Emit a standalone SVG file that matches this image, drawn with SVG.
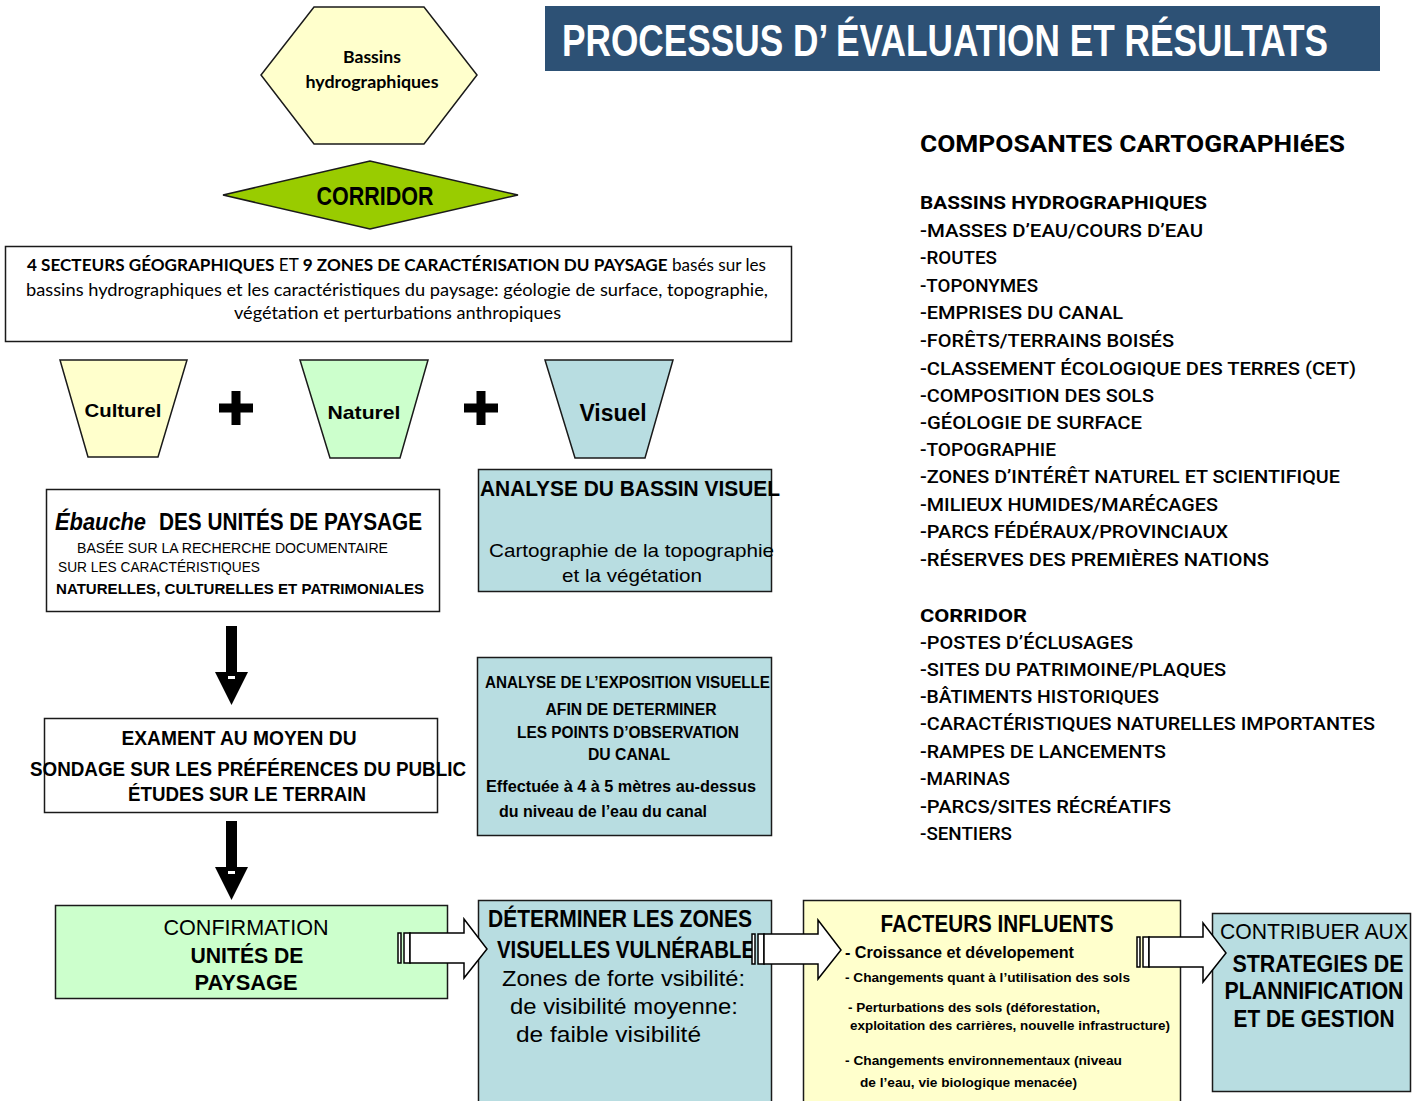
<svg xmlns="http://www.w3.org/2000/svg" width="1424" height="1101" viewBox="0 0 1424 1101">
<style>
  .box { stroke: #1a1a1a; stroke-width: 1.5; }
  .w { fill: #ffffff; }
  .y { fill: #FFFFCC; }
  .g { fill: #CCFFCC; }
  .t { fill: #B8DDE1; }
  .nb { font-family: "Liberation Sans", Arial, sans-serif; font-weight: bold; fill: #000; }
  .nr { font-family: "Liberation Sans", Arial, sans-serif; font-weight: normal; fill: #000; }
  .cal { font-family: Lato, "Liberation Sans", sans-serif; fill: #000; }
  .fg { font-family: Roboto, "Liberation Sans", sans-serif; font-weight: 500; font-size: 18px; fill: #000; }
  .fgb { font-family: Roboto, "Liberation Sans", sans-serif; font-weight: 700; fill: #000; }
  .mid { text-anchor: middle; }
  .arrow { fill: #ffffff; stroke: #000; stroke-width: 1.5; stroke-linejoin: miter; }
  .darrow { fill: #000; }
</style>
<defs>
  <g id="blockArrow">
    <rect class="arrow" x="398" y="933" width="3" height="30"/>
    <rect class="arrow" x="404" y="933" width="6" height="30"/>
    <polygon class="arrow" points="410,933 464,933 464,919 487,949 464,978 464,963 410,963"/>
  </g>
  <g id="downArrow">
    <polygon class="darrow" points="226,626 237,626 237,672 248,672 231.5,705 215,672 226,672"/>
    <rect x="228" y="676" width="7" height="3" fill="#ffffff"/>
  </g>
  <g id="plus">
    <rect x="-17" y="-4.5" width="34" height="9" fill="#000"/>
    <rect x="-4.5" y="-17" width="9" height="34" fill="#000"/>
  </g>
</defs>

<rect width="1424" height="1101" fill="#ffffff"/>

<!-- Title -->
<g id="title">
  <rect x="545" y="6" width="835" height="65" fill="#2D5175"/>
  <text transform="translate(562,56) scale(0.72,1)" x="0" y="0" class="nb" font-size="44" style="fill:#ffffff" textLength="1064" lengthAdjust="spacingAndGlyphs">PROCESSUS D’ ÉVALUATION ET RÉSULTATS</text>
</g>

<!-- Hexagon -->
<g id="bassins-hydro">
  <polygon class="box y" points="314,7 424,7 477,75 424,144 314,144 261,75"/>
  <text x="372" y="63" class="cal mid" font-size="17" font-weight="bold" textLength="58" lengthAdjust="spacingAndGlyphs">Bassins</text>
  <text x="372" y="88" class="cal mid" font-size="17" font-weight="bold" textLength="133" lengthAdjust="spacingAndGlyphs">hydrographiques</text>
</g>

<!-- Corridor diamond -->
<g id="corridor">
  <polygon class="box" fill="#99CC00" points="223,195 370,161 518,195 370,229"/>
  <text x="375" y="205" class="nb mid" font-size="25" textLength="117" lengthAdjust="spacingAndGlyphs">CORRIDOR</text>
</g>

<!-- Secteurs box -->
<g id="secteurs">
  <rect class="box w" x="5.5" y="246.5" width="786" height="95"/>
  <text x="27" y="271" class="cal" font-size="17" textLength="739" lengthAdjust="spacingAndGlyphs"><tspan font-weight="bold">4 SECTEURS GÉOGRAPHIQUES</tspan> ET <tspan font-weight="bold">9 ZONES DE CARACTÉRISATION  DU PAYSAGE</tspan> basés sur les</text>
  <text x="26" y="296" class="cal" font-size="17" textLength="742" lengthAdjust="spacingAndGlyphs">bassins hydrographiques et les caractéristiques du  paysage: géologie de surface, topographie,</text>
  <text x="234" y="319" class="cal" font-size="17" textLength="327" lengthAdjust="spacingAndGlyphs">végétation et perturbations anthropiques</text>
</g>

<!-- Trapezoids -->
<g id="culturel">
  <polygon class="box y" points="60,360 187,360 158,457 88,457"/>
  <text x="123" y="417" class="nb mid" font-size="19" textLength="77" lengthAdjust="spacingAndGlyphs">Culturel</text>
</g>
<g id="naturel">
  <polygon class="box g" points="300,360 428,360 400,458 330,458"/>
  <text x="364" y="419" class="nb mid" font-size="19" textLength="73" lengthAdjust="spacingAndGlyphs">Naturel</text>
</g>
<g id="visuel">
  <polygon class="box t" points="545,360 673,360 645,458 575,458"/>
  <text x="613" y="421" class="nb mid" font-size="23" textLength="67" lengthAdjust="spacingAndGlyphs">Visuel</text>
</g>

<g id="operators">
  <use href="#plus" transform="translate(236,408)"/>
  <use href="#plus" transform="translate(481,408)"/>
</g>

<!-- Ebauche -->
<g id="ebauche">
  <rect class="box w" x="46.5" y="489.5" width="393" height="122"/>
  <text x="55" y="530" class="nb" font-size="24" font-style="italic" textLength="91" lengthAdjust="spacingAndGlyphs">Ébauche</text>
  <text x="159" y="530" class="nb" font-size="24" textLength="263" lengthAdjust="spacingAndGlyphs">DES UNITÉS DE PAYSAGE</text>
  <text x="77" y="553" class="nr" font-size="15" textLength="311" lengthAdjust="spacingAndGlyphs">BASÉE SUR LA RECHERCHE DOCUMENTAIRE</text>
  <text x="58" y="572" class="nr" font-size="15" textLength="202" lengthAdjust="spacingAndGlyphs">SUR LES CARACTÉRISTIQUES</text>
  <text x="56" y="594" class="nb" font-size="15" textLength="368" lengthAdjust="spacingAndGlyphs">NATURELLES, CULTURELLES ET PATRIMONIALES</text>
</g>

<!-- Analyse du bassin visuel -->
<g id="bassin-visuel">
  <rect class="box t" x="478.5" y="469.5" width="293" height="122"/>
  <text x="480" y="496" class="nb" font-size="22" textLength="300" lengthAdjust="spacingAndGlyphs">ANALYSE DU BASSIN VISUEL</text>
  <text x="489" y="557" class="nr" font-size="19" textLength="285" lengthAdjust="spacingAndGlyphs">Cartographie de la topographie</text>
  <text x="632" y="582" class="nr mid" font-size="19" textLength="140" lengthAdjust="spacingAndGlyphs">et la végétation</text>
</g>

<!-- Exament -->
<g id="exament">
  <rect class="box w" x="44.5" y="718.5" width="393" height="94"/>
  <text x="239" y="745" class="nb mid" font-size="20" textLength="235" lengthAdjust="spacingAndGlyphs">EXAMENT AU MOYEN DU</text>
  <text x="248" y="776" class="nb mid" font-size="20" textLength="436" lengthAdjust="spacingAndGlyphs">SONDAGE SUR LES PRÉFÉRENCES DU PUBLIC</text>
  <text x="247" y="801" class="nb mid" font-size="20" textLength="238" lengthAdjust="spacingAndGlyphs">ÉTUDES SUR LE TERRAIN</text>
</g>

<!-- Exposition visuelle -->
<g id="exposition">
  <rect class="box t" x="477.5" y="657.5" width="294" height="178"/>
  <text x="485" y="688" class="nb" font-size="16" textLength="285" lengthAdjust="spacingAndGlyphs">ANALYSE DE L’EXPOSITION VISUELLE</text>
  <text x="631" y="715" class="nb mid" font-size="16" textLength="171" lengthAdjust="spacingAndGlyphs">AFIN DE DETERMINER</text>
  <text x="628" y="738" class="nb mid" font-size="16" textLength="222" lengthAdjust="spacingAndGlyphs">LES POINTS D’OBSERVATION</text>
  <text x="629" y="760" class="nb mid" font-size="16" textLength="82" lengthAdjust="spacingAndGlyphs">DU  CANAL</text>
  <text x="486" y="792" class="nr" font-size="16" style="font-weight:600" textLength="270" lengthAdjust="spacingAndGlyphs">Effectuée à 4 à 5 mètres au-dessus</text>
  <text x="499" y="817" class="nr" font-size="16" style="font-weight:600" textLength="208" lengthAdjust="spacingAndGlyphs">du niveau de l’eau du canal</text>
</g>

<!-- Confirmation -->
<g id="confirmation">
  <rect class="box g" x="55.5" y="905.5" width="392" height="93"/>
  <text x="246" y="935" class="nr mid" font-size="22" textLength="165" lengthAdjust="spacingAndGlyphs">CONFIRMATION</text>
  <text x="247" y="963" class="nb mid" font-size="22" textLength="113" lengthAdjust="spacingAndGlyphs">UNITÉS DE</text>
  <text x="246" y="990" class="nb mid" font-size="22" textLength="103" lengthAdjust="spacingAndGlyphs">PAYSAGE</text>
</g>

<!-- Determiner -->
<g id="determiner">
  <rect class="box t" x="478.5" y="900.5" width="293" height="212"/>
  <text x="488" y="927" class="nb" font-size="23" textLength="264" lengthAdjust="spacingAndGlyphs">DÉTERMINER LES ZONES</text>
  <text x="497" y="958" class="nb" font-size="23" textLength="258" lengthAdjust="spacingAndGlyphs">VISUELLES VULNÉRABLE</text>
  <text x="502" y="986" class="nr" font-size="22" textLength="243" lengthAdjust="spacingAndGlyphs">Zones de forte vsibilité:</text>
  <text x="510" y="1014" class="nr" font-size="22" textLength="228" lengthAdjust="spacingAndGlyphs">de visibilité moyenne:</text>
  <text x="516" y="1042" class="nr" font-size="22" textLength="185" lengthAdjust="spacingAndGlyphs">de faible visibilité</text>
</g>

<!-- Facteurs -->
<g id="facteurs">
  <rect class="box y" x="803.5" y="900.5" width="377" height="212"/>
  <text x="997" y="932" class="nb mid" font-size="23" textLength="233" lengthAdjust="spacingAndGlyphs">FACTEURS INFLUENTS</text>
  <text x="845" y="958" class="nr" font-size="16" style="font-weight:600" textLength="229" lengthAdjust="spacingAndGlyphs">- Croissance et dévelopement</text>
  <text x="845" y="982" class="nr" font-size="13" style="font-weight:600" textLength="285" lengthAdjust="spacingAndGlyphs">-  Changements quant à l’utilisation  des sols</text>
  <text x="848" y="1012" class="nr" font-size="13" style="font-weight:600" textLength="252" lengthAdjust="spacingAndGlyphs">-  Perturbations des sols (déforestation,</text>
  <text x="850" y="1030" class="nr" font-size="13" style="font-weight:600" textLength="320" lengthAdjust="spacingAndGlyphs">exploitation des carrières, nouvelle infrastructure)</text>
  <text x="845" y="1065" class="nr" font-size="13" style="font-weight:600" textLength="277" lengthAdjust="spacingAndGlyphs">-  Changements environnementaux (niveau</text>
  <text x="860" y="1087" class="nr" font-size="13" style="font-weight:600" textLength="217" lengthAdjust="spacingAndGlyphs">de l’eau, vie biologique  menacée)</text>
</g>

<!-- Contribuer -->
<g id="contribuer">
  <rect class="box t" x="1212.5" y="913.5" width="198" height="178"/>
  <text x="1220" y="939" class="nr" font-size="22" textLength="188" lengthAdjust="spacingAndGlyphs">CONTRIBUER AUX</text>
  <text x="1318" y="972" class="nb mid" font-size="24" textLength="171" lengthAdjust="spacingAndGlyphs">STRATEGIES DE</text>
  <text x="1314" y="999" class="nb mid" font-size="24" textLength="179" lengthAdjust="spacingAndGlyphs">PLANNIFICATION</text>
  <text x="1314" y="1027" class="nb mid" font-size="24" textLength="161" lengthAdjust="spacingAndGlyphs">ET DE GESTION</text>
</g>

<!-- Right column list -->
<g id="composantes">
  <text x="920" y="152" class="fgb" font-size="24" textLength="425" lengthAdjust="spacingAndGlyphs">COMPOSANTES CARTOGRAPHIéES</text>
  <text x="920" y="209" class="fgb" font-size="18" textLength="287" lengthAdjust="spacingAndGlyphs">BASSINS HYDROGRAPHIQUES</text>
  <text x="920" y="237" class="fg" textLength="283" lengthAdjust="spacingAndGlyphs">-MASSES  D’EAU/COURS  D’EAU</text>
  <text x="920" y="264" class="fg" textLength="77" lengthAdjust="spacingAndGlyphs">-ROUTES</text>
  <text x="920" y="292" class="fg" textLength="118" lengthAdjust="spacingAndGlyphs">-TOPONYMES</text>
  <text x="920" y="319" class="fg" textLength="203" lengthAdjust="spacingAndGlyphs">-EMPRISES  DU CANAL</text>
  <text x="920" y="347" class="fg" textLength="254" lengthAdjust="spacingAndGlyphs">-FORÊTS/TERRAINS  BOISÉS</text>
  <text x="920" y="375" class="fg" textLength="436" lengthAdjust="spacingAndGlyphs">-CLASSEMENT  ÉCOLOGIQUE  DES TERRES  (CET)</text>
  <text x="920" y="402" class="fg" textLength="234" lengthAdjust="spacingAndGlyphs">-COMPOSITION  DES SOLS</text>
  <text x="920" y="429" class="fg" textLength="222" lengthAdjust="spacingAndGlyphs">-GÉOLOGIE  DE SURFACE</text>
  <text x="920" y="456" class="fg" textLength="136" lengthAdjust="spacingAndGlyphs">-TOPOGRAPHIE</text>
  <text x="920" y="483" class="fg" textLength="420" lengthAdjust="spacingAndGlyphs">-ZONES D’INTÉRÊT  NATUREL  ET SCIENTIFIQUE</text>
  <text x="920" y="511" class="fg" textLength="298" lengthAdjust="spacingAndGlyphs">-MILIEUX HUMIDES/MARÉCAGES</text>
  <text x="920" y="538" class="fg" textLength="308" lengthAdjust="spacingAndGlyphs">-PARCS FÉDÉRAUX/PROVINCIAUX</text>
  <text x="920" y="566" class="fg" textLength="349" lengthAdjust="spacingAndGlyphs">-RÉSERVES  DES  PREMIÈRES  NATIONS</text>
  <text x="920" y="622" class="fgb" font-size="18" textLength="107" lengthAdjust="spacingAndGlyphs">CORRIDOR</text>
  <text x="920" y="649" class="fg" textLength="213" lengthAdjust="spacingAndGlyphs">-POSTES  D’ÉCLUSAGES</text>
  <text x="920" y="676" class="fg" textLength="306" lengthAdjust="spacingAndGlyphs">-SITES  DU PATRIMOINE/PLAQUES</text>
  <text x="920" y="703" class="fg" textLength="239" lengthAdjust="spacingAndGlyphs">-BÂTIMENTS  HISTORIQUES</text>
  <text x="920" y="730" class="fg" textLength="455" lengthAdjust="spacingAndGlyphs">-CARACTÉRISTIQUES  NATURELLES IMPORTANTES</text>
  <text x="920" y="758" class="fg" textLength="246" lengthAdjust="spacingAndGlyphs">-RAMPES DE LANCEMENTS</text>
  <text x="920" y="785" class="fg" textLength="90" lengthAdjust="spacingAndGlyphs">-MARINAS</text>
  <text x="920" y="813" class="fg" textLength="251" lengthAdjust="spacingAndGlyphs">-PARCS/SITES  RÉCRÉATIFS</text>
  <text x="920" y="840" class="fg" textLength="92" lengthAdjust="spacingAndGlyphs">-SENTIERS</text>
</g>

<!-- Connectors -->
<g id="connectors">
  <use href="#downArrow"/>
  <use href="#downArrow" transform="translate(0,195)"/>
  <use href="#blockArrow"/>
  <use href="#blockArrow" transform="translate(354,1)"/>
  <use href="#blockArrow" transform="translate(739,4)"/>
</g>
</svg>
